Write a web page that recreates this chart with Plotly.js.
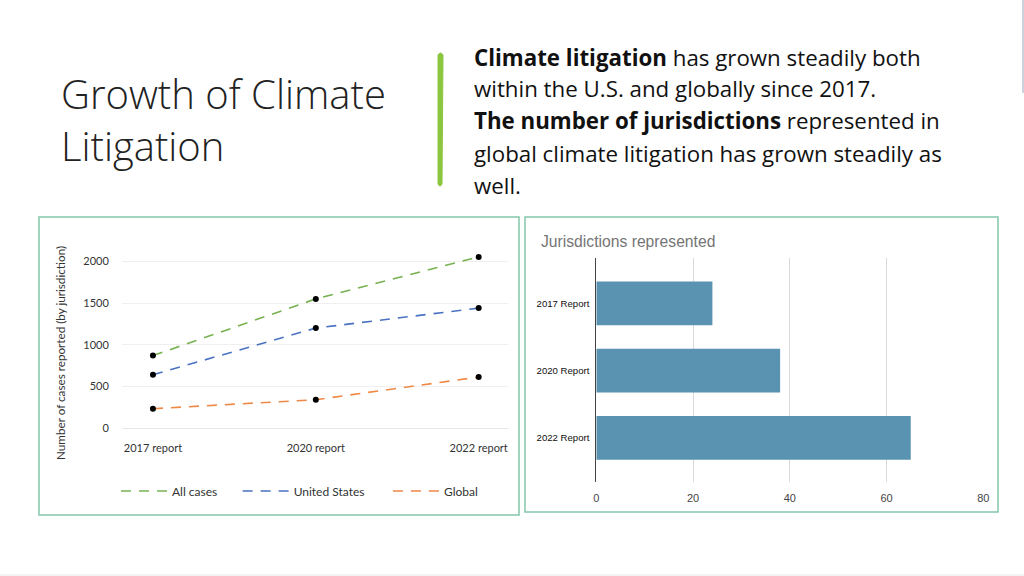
<!DOCTYPE html>
<html>
<head>
<meta charset="utf-8">
<script src="https://cdn.plot.ly/plotly-3.0.1.min.js"></script>
<style>
html,body{margin:0;padding:0;background:#fff;}
#chart{width:1024px;height:576px;}
</style>
</head>
<body>
<div id="chart"></div>
<script>
// ---- data ----
const reportCats = ["2017 report", "2020 report", "2022 report"];
const allCases = [870, 1550, 2055];
const usCases = [640, 1200, 1440];
const globalCases = [232, 340, 612];
const seriesNames = ["All cases", "United States", "Global"];

const jurisdictionCats = ["2017 Report", "2020 Report", "2022 Report"];
const jurisdictions = [24, 38, 65];

const yTicks = [0, 500, 1000, 1500, 2000];
const xTicksBar = [0, 20, 40, 60, 80];

// ---- helpers (pixel -> paper) ----
const W = 1024, H = 576;
const px = x => x / W;
const py = y => 1 - y / H;

const slideFont = "'Open Sans', sans-serif";
const lineFont = {family: "Lato, 'Open Sans', sans-serif", size: 11, color: "#333"};
const pads = ["\u00a0\u00a0\u00a0\u00a0\u00a0", "\u00a0\u00a0\u00a0\u00a0\u00a0\u00a0", ""];

const seriesColors = ["#77b150", "#4a72c0", "#ee8845"];
const seriesValues = [allCases, usCases, globalCases];

const data = [];
seriesValues.forEach((vals, i) => {
  // dashed line (shown in legend)
  data.push({
    type: "scatter", mode: "lines",
    x: reportCats, y: vals, name: seriesNames[i] + pads[i],
    xaxis: "x", yaxis: "y",
    line: {color: seriesColors[i], width: 1.6, dash: "10px,8px"},
    showlegend: true
  });
});
seriesValues.forEach((vals, i) => {
  // black data points
  data.push({
    type: "scatter", mode: "markers",
    x: reportCats, y: vals, name: seriesNames[i],
    xaxis: "x", yaxis: "y",
    marker: {color: "#000", size: 6},
    showlegend: false
  });
});
data.push({
  type: "bar", orientation: "h",
  x: jurisdictions, y: jurisdictionCats,
  xaxis: "x2", yaxis: "y2",
  marker: {color: "#5a92b1"},
  width: 0.65,
  showlegend: false
});

const layout = {
  width: W, height: H,
  margin: {l: 0, r: 0, t: 0, b: 0},
  paper_bgcolor: "#fff", plot_bgcolor: "rgba(0,0,0,0)",
  font: {family: "Lato, sans-serif", color: "#333"},
  showlegend: true,
  legend: {
    orientation: "h",
    x: px(116), xanchor: "left",
    y: py(491), yanchor: "middle",
    font: {family: "Lato, sans-serif", size: 12, color: "#333"},
    itemwidth: 46,
    bgcolor: "rgba(0,0,0,0)"
  },
  xaxis: {
    domain: [px(122), px(508)],
    anchor: "y",
    type: "category",
    range: [-0.19, 2.18],
    showgrid: false, zeroline: false, showline: false,
    ticks: "outside", ticklen: 10, tickcolor: "rgba(0,0,0,0)",
    tickfont: lineFont
  },
  yaxis: {
    domain: [py(428), py(249)],
    anchor: "x",
    range: [0, 2150],
    tickvals: yTicks,
    showgrid: true, gridcolor: "#efefef", gridwidth: 1,
    zeroline: true, zerolinecolor: "#e6e6e6", zerolinewidth: 1,
    showline: false,
    ticks: "outside", ticklen: 10, tickcolor: "rgba(0,0,0,0)",
    tickfont: lineFont
  },
  xaxis2: {
    domain: [px(596.3), px(983.3)],
    anchor: "y2",
    range: [0, 80],
    tickvals: xTicksBar,
    showgrid: true, gridcolor: "#d9d9d9", gridwidth: 1,
    zeroline: false, showline: false,
    ticks: "outside", ticklen: 6, tickcolor: "rgba(0,0,0,0)",
    tickfont: {family: "'Liberation Sans', Arial, sans-serif", size: 11, color: "#444"}
  },
  yaxis2: {
    domain: [py(481.7), py(257.7)],
    anchor: "x2",
    type: "category",
    range: [2.65, -0.68],
    showgrid: false, zeroline: false,
    showline: true, linecolor: "#444", linewidth: 1,
    ticks: "outside", ticklen: 4, tickcolor: "rgba(0,0,0,0)",
    tickfont: {family: "'Liberation Sans', Arial, sans-serif", size: 9.6, color: "#111"}
  },
  shapes: [
    // panel borders
    {type: "rect", xref: "paper", yref: "paper", x0: px(39), x1: px(519), y0: py(515), y1: py(217),
     line: {color: "#82c8aa", width: 1.5}},
    {type: "rect", xref: "paper", yref: "paper", x0: px(525), x1: px(998), y0: py(512), y1: py(217),
     line: {color: "#82c8aa", width: 1.5}},
    // green accent bar
    {type: "path", xref: "paper", yref: "paper",
     path: `M ${px(438)} ${py(55)} Q ${px(440.5)} ${py(51)} ${px(443)} ${py(55)} L ${px(442)} ${py(184)} Q ${px(440)} ${py(188)} ${px(438)} ${py(184)} Z`,
     fillcolor: "#8cc63f", line: {color: "#8cc63f", width: 1}},
    // slide edge lines
    {type: "line", xref: "paper", yref: "paper", x0: px(0), x1: px(1024), y0: py(575), y1: py(575),
     line: {color: "#e8e8e8", width: 1}},
    {type: "line", xref: "paper", yref: "paper", x0: px(1023), x1: px(1023), y0: py(0), y1: py(93),
     line: {color: "#9aa8bf", width: 1}}
  ],
  annotations: [
    {xref: "paper", yref: "paper", x: px(59), y: py(119), xanchor: "left", yanchor: "middle",
     align: "left",
     text: "Growth of Climate<br>Litigation", showarrow: false,
     font: {family: slideFont, size: 40, weight: 300, color: "#222"}},

    {xref: "paper", yref: "paper", x: px(472), y: py(57), xanchor: "left", yanchor: "middle",
     text: "<b>Climate litigation</b> has grown steadily both", showarrow: false,
     font: {family: slideFont, size: 22.3, color: "#111"}},
    {xref: "paper", yref: "paper", x: px(472), y: py(89), xanchor: "left", yanchor: "middle",
     text: "within the U.S. and globally since 2017.", showarrow: false,
     font: {family: slideFont, size: 22.3, color: "#111"}},
    {xref: "paper", yref: "paper", x: px(472), y: py(121), xanchor: "left", yanchor: "middle",
     text: "<b>The number of jurisdictions</b> represented in", showarrow: false,
     font: {family: slideFont, size: 22.3, color: "#111"}},
    {xref: "paper", yref: "paper", x: px(472), y: py(153), xanchor: "left", yanchor: "middle",
     text: "global climate litigation has grown steadily as", showarrow: false,
     font: {family: slideFont, size: 22.3, color: "#111"}},
    {xref: "paper", yref: "paper", x: px(472), y: py(185), xanchor: "left", yanchor: "middle",
     text: "well.", showarrow: false,
     font: {family: slideFont, size: 22.3, color: "#111"}},

    // left chart y-axis title
    {xref: "paper", yref: "paper", x: px(60), y: py(353), xanchor: "center", yanchor: "middle",
     text: "Number of cases reported (by jurisdiction)", textangle: -90, showarrow: false,
     font: {family: "Lato, sans-serif", size: 11.7, color: "#333"}},
    // right chart title
    {xref: "paper", yref: "paper", x: px(539), y: py(241), xanchor: "left", yanchor: "middle",
     text: "Jurisdictions represented", showarrow: false,
     font: {family: "'Liberation Sans', Arial, sans-serif", size: 15.7, color: "#757575"}}
  ]
};

Plotly.newPlot("chart", data, layout, {displayModeBar: false, staticPlot: true});
</script>
</body>
</html>
